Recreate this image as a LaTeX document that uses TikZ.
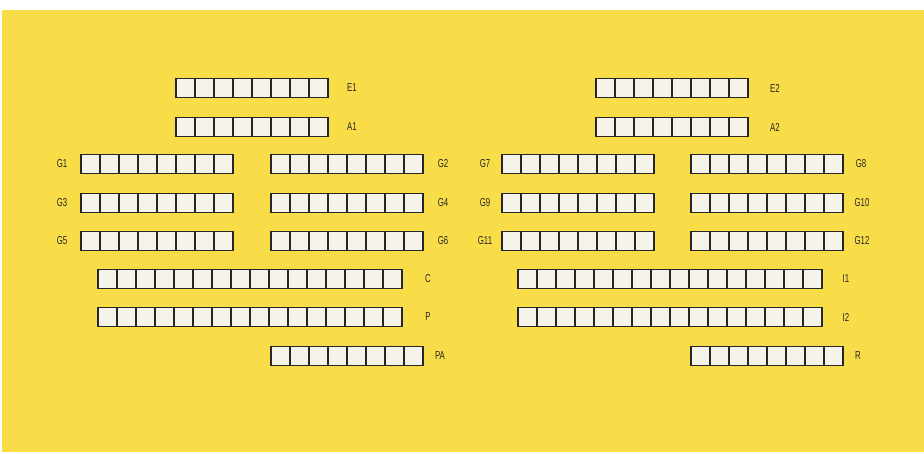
\documentclass[tikz,border=0pt]{standalone}
\usepackage{fontspec}
\newfontfamily\tagfont[FakeStretch=0.68]{Liberation Sans}
\usetikzlibrary{positioning}
\definecolor{paper}{HTML}{F8DC48}
\definecolor{slotfill}{HTML}{F5F3EA}
\definecolor{ink}{HTML}{262626}
\tikzset{
  slot/.style={draw=ink, fill=slotfill, line width=1.1pt, minimum size=19pt, inner sep=0pt, outer sep=0pt},
  frame/.style={draw=ink, line width=1.6pt},
  tag/.style={font=\tagfont\fontsize{11.5}{13}\selectfont, text=ink, inner sep=0pt},
}
% one register: name, left edge, row, cells, label x
\newcommand{\slotrow}[5]{%
  \foreach \i in {1,...,#4} {%
    \node[slot] (#1-\i) at ({#2+(\i-0.5)*19},#3) {};
  }
  \draw[frame] (#1-1.north west) rectangle (#1-#4.south east);
  \node[tag] (lbl-#1) at (#5,#3) {#1};}

\begin{document}
\begin{tikzpicture}[x=1pt,y=-1pt]
  \useasboundingbox (0,0) rectangle (924,454);
  \fill[white] (0,0) rectangle (924,454);
  \fill[paper] (2,10) rectangle (924,452);
  % left half
  \slotrow{E1}{176}{88}{8}{352}
  \slotrow{A1}{176}{127}{8}{352}
  \slotrow{G1}{81}{164}{8}{62}
  \slotrow{G2}{271}{164}{8}{443}
  \slotrow{G3}{81}{203}{8}{62}
  \slotrow{G4}{271}{203}{8}{443}
  \slotrow{G5}{81}{241}{8}{62}
  \slotrow{G6}{271}{241}{8}{443}
  \slotrow{C}{98}{279}{16}{428}
  \slotrow{P}{98}{317}{16}{428}
  \slotrow{PA}{271}{356}{8}{440}
  % right half
  \slotrow{E2}{596}{88}{8}{775}
  \slotrow{A2}{596}{127}{8}{775}
  \slotrow{G7}{502}{164}{8}{485}
  \slotrow{G8}{691}{164}{8}{861}
  \slotrow{G9}{502}{203}{8}{485}
  \slotrow{G10}{691}{203}{8}{862}
  \slotrow{G11}{502}{241}{8}{485}
  \slotrow{G12}{691}{241}{8}{862}
  \slotrow{I1}{518}{279}{16}{846}
  \slotrow{I2}{518}{317}{16}{846}
  \slotrow{R}{691}{356}{8}{858}
\end{tikzpicture}
\end{document}
